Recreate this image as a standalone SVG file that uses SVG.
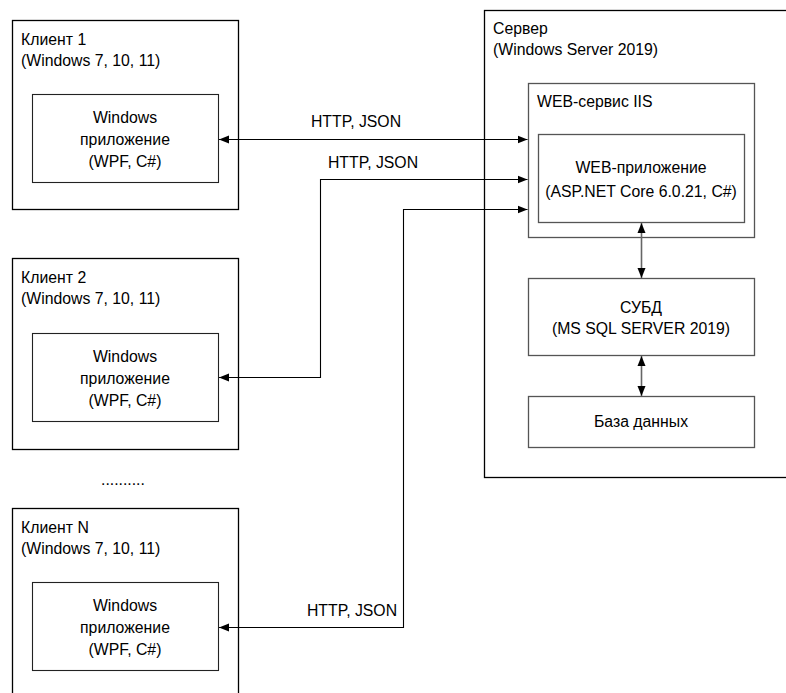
<svg xmlns="http://www.w3.org/2000/svg" width="786" height="693" viewBox="0 0 786 693">
<style>
  text { font-family: "Liberation Sans", Arial, sans-serif; font-size: 15.8px; fill: #000; }
  .c { text-anchor: middle; }
  .outer { fill: #fff; stroke: #000; stroke-width: 1.3; }
  .inner { fill: #fff; stroke: #222; stroke-width: 1.1; }
  .srv { fill: #fff; stroke: #555; stroke-width: 1.3; }
  .conn { fill: none; stroke: #000; stroke-width: 1.1; }
  .vconn { fill: none; stroke: #666; stroke-width: 1.6; }
</style>
<defs>
  <marker id="ah" markerUnits="userSpaceOnUse" markerWidth="12" markerHeight="10" viewBox="0 0 12 10" refX="10" refY="5" orient="auto-start-reverse">
    <path d="M0,1 L10,5 L0,9 Z" fill="#000"/>
  </marker>
</defs>
<rect width="786" height="693" fill="#fff"/>

<g id="client1">
  <rect class="outer" x="12.5" y="20.5" width="226" height="189"/>
  <text x="21" y="45">Клиент 1</text>
  <text x="21" y="66">(Windows 7, 10, 11)</text>
  <g id="app1">
    <rect class="inner" x="32.5" y="94.5" width="186" height="88"/>
    <text class="c" x="125" y="123">Windows</text>
    <text class="c" x="125" y="145">приложение</text>
    <text class="c" x="125" y="167">(WPF, C#)</text>
  </g>
</g>

<g id="client2">
  <rect class="outer" x="12.5" y="258.5" width="226" height="191"/>
  <text x="21" y="283">Клиент 2</text>
  <text x="21" y="304">(Windows 7, 10, 11)</text>
  <g id="app2">
    <rect class="inner" x="32.5" y="333.5" width="186" height="88"/>
    <text class="c" x="125" y="362">Windows</text>
    <text class="c" x="125" y="384">приложение</text>
    <text class="c" x="125" y="406">(WPF, C#)</text>
  </g>
</g>

<text id="ellipsis" x="101" y="485">..........</text>

<g id="clientN">
  <rect class="outer" x="12.5" y="508.5" width="226" height="200"/>
  <text x="21" y="533">Клиент N</text>
  <text x="21" y="554">(Windows 7, 10, 11)</text>
  <g id="appN">
    <rect class="inner" x="32.5" y="582.5" width="186" height="88"/>
    <text class="c" x="125" y="611">Windows</text>
    <text class="c" x="125" y="633">приложение</text>
    <text class="c" x="125" y="655">(WPF, C#)</text>
  </g>
</g>

<g id="server">
  <rect class="outer" x="484.5" y="10.5" width="320" height="467" stroke="#333"/>
  <text x="493" y="34">Сервер</text>
  <text x="493" y="55">(Windows Server 2019)</text>
  <g id="iis">
    <rect class="srv" x="528.5" y="83.5" width="226" height="154"/>
    <text x="537" y="107">WEB-сервис IIS</text>
    <g id="webapp">
      <rect class="srv" x="538.5" y="134.5" width="206" height="88"/>
      <text class="c" x="641" y="173">WEB-приложение</text>
      <text class="c" x="641" y="197">(ASP.NET Core 6.0.21, C#)</text>
    </g>
  </g>
  <g id="dbms">
    <rect class="srv" x="528.5" y="278.5" width="226" height="77"/>
    <text class="c" x="641" y="313">СУБД</text>
    <text class="c" x="641" y="334">(MS SQL SERVER 2019)</text>
  </g>
  <g id="db">
    <rect class="srv" x="528.5" y="396.5" width="226" height="51"/>
    <text class="c" x="641" y="427">База данных</text>
  </g>
</g>

<g id="connectors">
  <path class="conn" d="M219,139.5 H527.5" marker-start="url(#ah)" marker-end="url(#ah)"/>
  <path class="conn" d="M219,377.5 H320.5 V179.5 H527.5" marker-start="url(#ah)" marker-end="url(#ah)"/>
  <path class="conn" d="M219,627.5 H403.5 V209.5 H527.5" marker-start="url(#ah)" marker-end="url(#ah)"/>
  <path class="vconn" d="M641.5,223 V278" marker-start="url(#ah)" marker-end="url(#ah)"/>
  <path class="vconn" d="M641.5,356 V396" marker-start="url(#ah)" marker-end="url(#ah)"/>
  <text class="c" x="356" y="127">HTTP, JSON</text>
  <text class="c" x="373" y="168">HTTP, JSON</text>
  <text class="c" x="352" y="616">HTTP, JSON</text>
</g>
</svg>
